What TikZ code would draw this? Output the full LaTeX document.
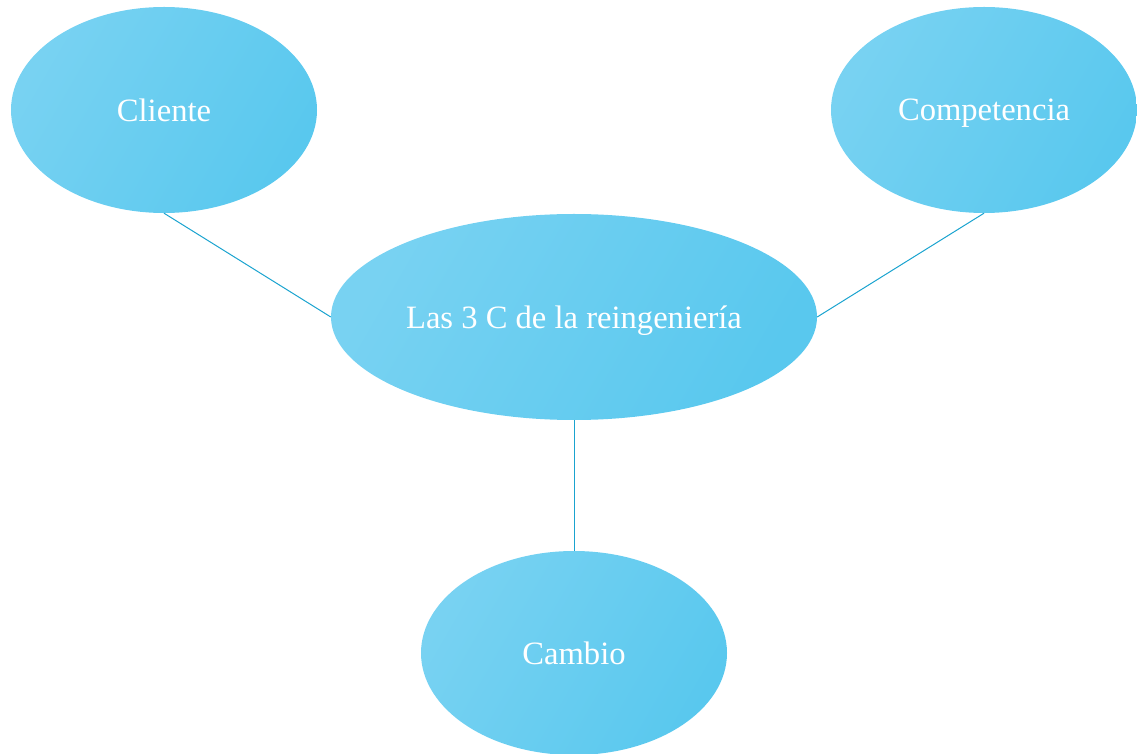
\documentclass[tikz,border=0pt]{standalone}
\usepackage{fontspec}
\setmainfont{Liberation Serif}
\usetikzlibrary{shapes.geometric}
\definecolor{bubbleLight}{HTML}{78D2F2}
\definecolor{bubbleDark}{HTML}{59C8EE}
\definecolor{linkBlue}{HTML}{1AA3CF}
\tikzset{
  bubble/.style={ellipse, draw=none, inner sep=0pt, text depth=0pt,
    top color=bubbleLight, bottom color=bubbleDark, shading angle=60,
    text=white, font=\fontsize{32.6}{38}\selectfont},
  link/.style={draw=linkBlue, line width=1pt}
}
\begin{document}
\begin{tikzpicture}[x=1pt, y=1pt]
  \useasboundingbox (0,0) rectangle (1137,753);
  % outer concepts
  \node[bubble, minimum width=306pt, minimum height=206pt] (cliente) at (164,643) {Cliente};
  \node[bubble, minimum width=306pt, minimum height=206pt] (competencia) at (984,643) {Competencia};
  % central concept
  \node[bubble, minimum width=486pt, minimum height=206pt] (centro) at (574,436) {Las 3 C de la reingeniería};
  \node[bubble, minimum width=306pt, minimum height=204pt] (cambio) at (574,100) {Cambio};
  % connectors
  \draw[link] (cliente.south) -- (centro.west);
  \draw[link] (competencia.south) -- (centro.east);
  \draw[link] (centro.south) -- (cambio.north);
\end{tikzpicture}
\end{document}
